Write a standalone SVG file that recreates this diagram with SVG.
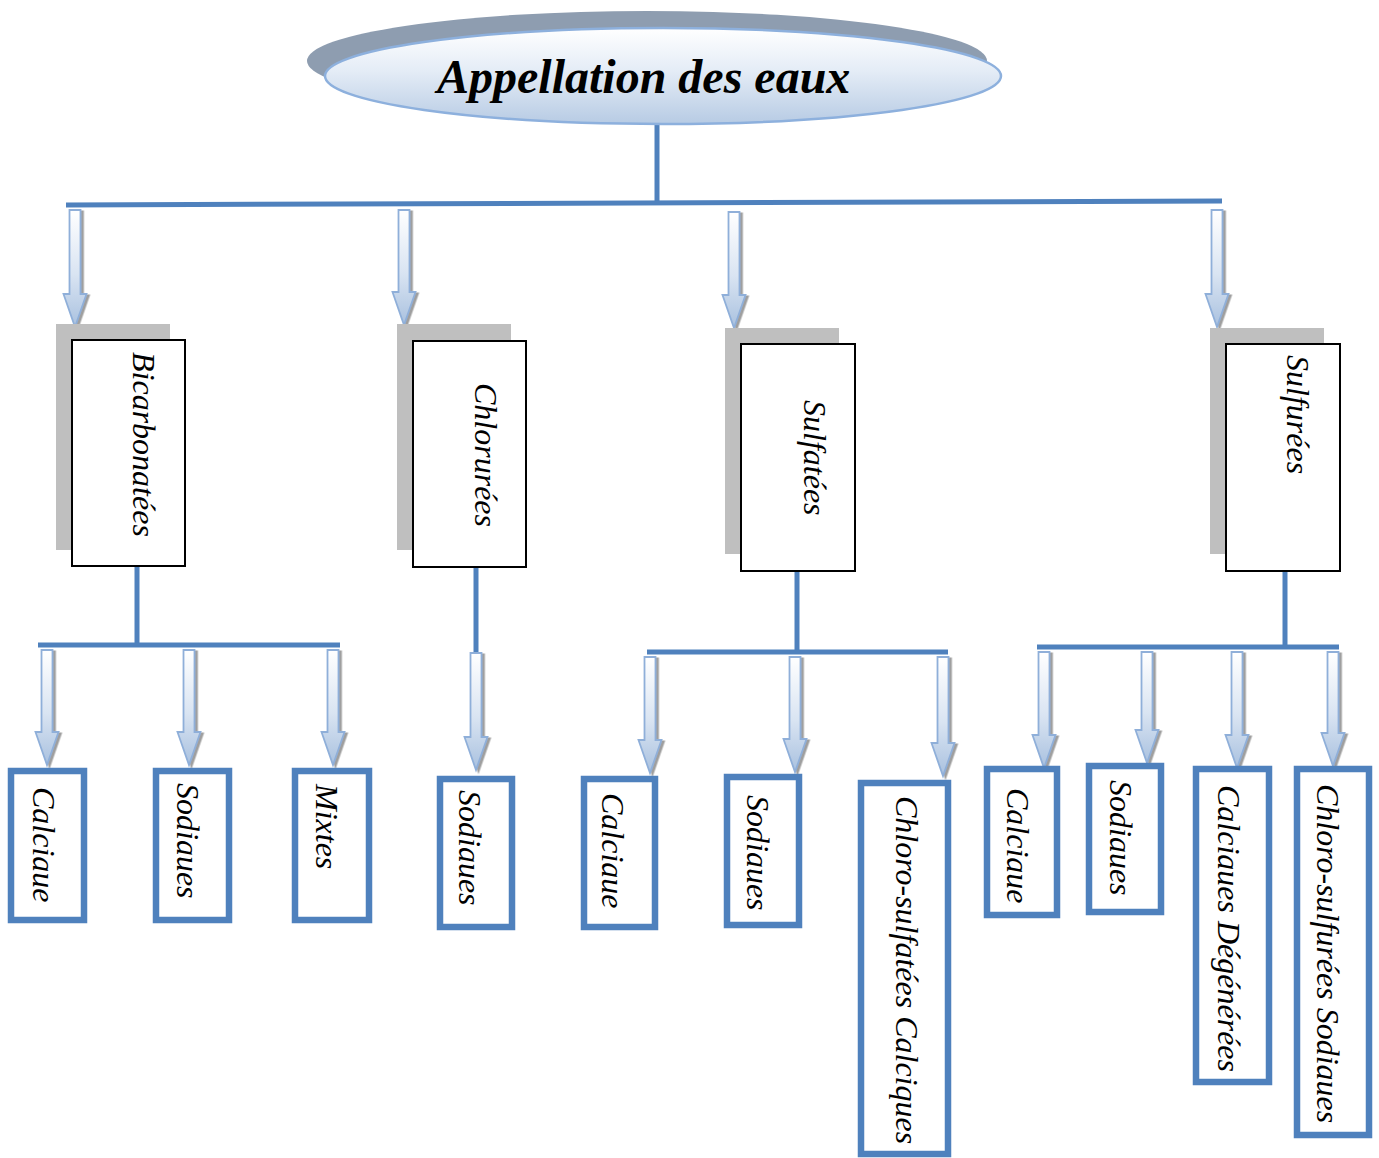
<svg xmlns="http://www.w3.org/2000/svg" width="1379" height="1158" viewBox="0 0 1379 1158">
  <defs>
    <linearGradient id="ellg" x1="0" y1="0" x2="0" y2="1">
      <stop offset="0" stop-color="#FFFFFF"/>
      <stop offset="0.45" stop-color="#E4ECF6"/>
      <stop offset="1" stop-color="#B7CBE4"/>
    </linearGradient>
    <linearGradient id="ag" x1="0" y1="0" x2="0" y2="1">
      <stop offset="0" stop-color="#FFFFFF"/>
      <stop offset="0.55" stop-color="#D9E4F2"/>
      <stop offset="1" stop-color="#A9C1DF"/>
    </linearGradient>
    <filter id="sh" x="-60%" y="-10%" width="220%" height="130%">
      <feDropShadow dx="2.5" dy="1.5" stdDeviation="0.7" flood-color="#7F7F7F" flood-opacity="0.75"/>
    </filter>
    <style>
      .ln{stroke:#4F81BD;stroke-width:5;fill:none}
      .arr{fill:url(#ag);stroke:#8FAFD9;stroke-width:1.8;stroke-linejoin:miter;filter:url(#sh)}
      .shd{fill:#BFBFBF}
      .b1{fill:#FFFFFF;stroke:#000000;stroke-width:2}
      .b2{fill:#FFFFFF;stroke:#4F81BD;stroke-width:6.5}
      .t{font-family:"Liberation Serif","Times New Roman",serif;font-style:italic;font-size:32px;fill:#000000}
      .title{font-family:"Liberation Serif","Times New Roman",serif;font-style:italic;font-weight:bold;font-size:48px;fill:#000000}
    </style>
  </defs>
  <rect x="0" y="0" width="1379" height="1158" fill="#FFFFFF"/>

  <g id="connectors">
    <line class="ln" x1="657" y1="125" x2="657" y2="203"/>
    <line class="ln" x1="66" y1="205" x2="1222" y2="201"/>
    <line class="ln" x1="137" y1="567" x2="137" y2="645"/>
    <line class="ln" x1="38" y1="645" x2="340" y2="645"/>
    <line class="ln" x1="476" y1="567" x2="476" y2="653"/>
    <line class="ln" x1="797" y1="571" x2="797" y2="652"/>
    <line class="ln" x1="647" y1="652" x2="948" y2="652"/>
    <line class="ln" x1="1285" y1="571" x2="1285" y2="647"/>
    <line class="ln" x1="1037" y1="647" x2="1339" y2="647"/>
    <path class="arr" d="M69.5,210 H80.5 V294 H86.5 L75,327 L63.5,294 H69.5 Z"/>
    <path class="arr" d="M398.5,210 H409.5 V292 H415.5 L404,325 L392.5,292 H398.5 Z"/>
    <path class="arr" d="M728.5,212 H739.5 V295 H745.5 L734,328 L722.5,295 H728.5 Z"/>
    <path class="arr" d="M1211.5,210 H1222.5 V294 H1228.5 L1217,327 L1205.5,294 H1211.5 Z"/>
    <path class="arr" d="M41.5,650 H52.5 V732 H58.5 L47,765 L35.5,732 H41.5 Z"/>
    <path class="arr" d="M183.5,650 H194.5 V732 H200.5 L189,765 L177.5,732 H183.5 Z"/>
    <path class="arr" d="M327.5,650 H338.5 V732 H344.5 L333,765 L321.5,732 H327.5 Z"/>
    <path class="arr" d="M470.5,653 H481.5 V737 H487.5 L476,770 L464.5,737 H470.5 Z"/>
    <path class="arr" d="M644.5,657 H655.5 V740 H661.5 L650,773 L638.5,740 H644.5 Z"/>
    <path class="arr" d="M789.5,657 H800.5 V739 H806.5 L795,772 L783.5,739 H789.5 Z"/>
    <path class="arr" d="M937.5,657 H948.5 V743 H954.5 L943,776 L931.5,743 H937.5 Z"/>
    <path class="arr" d="M1038.5,652 H1049.5 V735 H1055.5 L1044,768 L1032.5,735 H1038.5 Z"/>
    <path class="arr" d="M1141.5,652 H1152.5 V730 H1158.5 L1147,763 L1135.5,730 H1141.5 Z"/>
    <path class="arr" d="M1231.5,652 H1242.5 V735 H1248.5 L1237,768 L1225.5,735 H1231.5 Z"/>
    <path class="arr" d="M1327.5,652 H1338.5 V733 H1344.5 L1333,766 L1321.5,733 H1327.5 Z"/>
  </g>

  <g id="title">
    <ellipse cx="647" cy="61" rx="340" ry="50" fill="#8E9DB0"/>
    <ellipse cx="663" cy="76" rx="338" ry="48" fill="url(#ellg)" stroke="#8DB0DD" stroke-width="2.5"/>
    <text class="title" x="437" y="93">Appellation des eaux</text>
  </g>

  <g id="bicarbonatees">
    <rect class="shd" x="56" y="324" width="114" height="226"/>
    <rect class="b1" x="72" y="340" width="113" height="226"/>
    <text class="t" transform="translate(133,352) rotate(90)">Bicarbonatées</text>
  </g>
  <g id="chlorurees">
    <rect class="shd" x="397" y="324" width="114" height="226"/>
    <rect class="b1" x="413" y="341" width="113" height="226"/>
    <text class="t" transform="translate(475,383) rotate(90)">Chlorurées</text>
  </g>
  <g id="sulfatees">
    <rect class="shd" x="725" y="328" width="114" height="226"/>
    <rect class="b1" x="741" y="344" width="114" height="227"/>
    <text class="t" transform="translate(804,400) rotate(90)">Sulfatées</text>
  </g>
  <g id="sulfurees">
    <rect class="shd" x="1210" y="328" width="114" height="226"/>
    <rect class="b1" x="1226" y="344" width="114" height="227"/>
    <text class="t" transform="translate(1287,355) rotate(90)">Sulfurées</text>
  </g>

  <g id="bic-calciaue">
    <rect class="b2" x="11" y="771" width="73" height="149"/>
    <text class="t" transform="translate(33,787) rotate(90)">Calciaue</text>
  </g>
  <g id="bic-sodiaues">
    <rect class="b2" x="156" y="771" width="73" height="149"/>
    <text class="t" transform="translate(177,783) rotate(90)">Sodiaues</text>
  </g>
  <g id="bic-mixtes">
    <rect class="b2" x="295" y="771" width="74" height="149"/>
    <text class="t" transform="translate(316,784) rotate(90)">Mixtes</text>
  </g>
  <g id="chl-sodiaues">
    <rect class="b2" x="440" y="779" width="72" height="148"/>
    <text class="t" transform="translate(459,790) rotate(90)">Sodiaues</text>
  </g>
  <g id="sfa-calciaue">
    <rect class="b2" x="584" y="779" width="71" height="148"/>
    <text class="t" transform="translate(602,793) rotate(90)">Calciaue</text>
  </g>
  <g id="sfa-sodiaues">
    <rect class="b2" x="727" y="777" width="72" height="148"/>
    <text class="t" transform="translate(747,795) rotate(90)">Sodiaues</text>
  </g>
  <g id="sfa-chloro">
    <rect class="b2" x="861" y="783" width="87" height="371"/>
    <text class="t" transform="translate(896,796) rotate(90)">Chloro-sulfatées Calciques</text>
  </g>
  <g id="sfu-calciaue">
    <rect class="b2" x="987" y="769" width="70" height="146"/>
    <text class="t" transform="translate(1007,788) rotate(90)">Calciaue</text>
  </g>
  <g id="sfu-sodiaues">
    <rect class="b2" x="1089" y="766" width="72" height="146"/>
    <text class="t" transform="translate(1110,780) rotate(90)">Sodiaues</text>
  </g>
  <g id="sfu-degenerees">
    <rect class="b2" x="1196" y="769" width="73" height="313"/>
    <text class="t" transform="translate(1218,785) rotate(90)">Calciaues Dégénérées</text>
  </g>
  <g id="sfu-chloro">
    <rect class="b2" x="1297" y="769" width="72" height="366"/>
    <text class="t" transform="translate(1317,784) rotate(90)">Chloro-sulfurées Sodiaues</text>
  </g>
</svg>
